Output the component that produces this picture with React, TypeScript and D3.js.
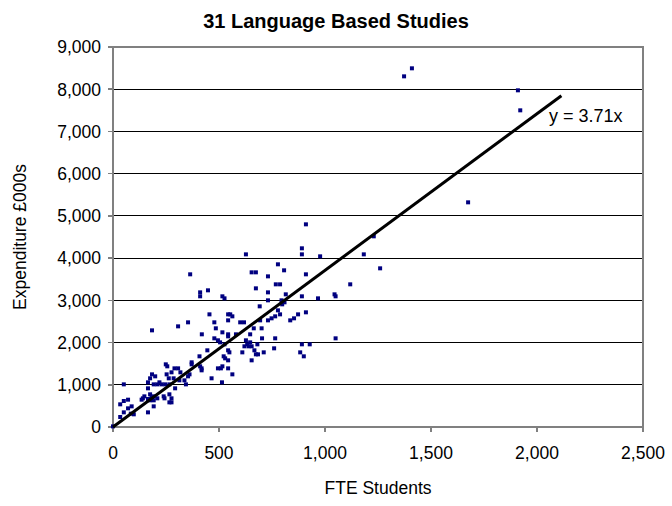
import React from "react";
import * as d3 from "d3";

const title = "31 Language Based Studies";
const xLabel = "FTE Students";
const yLabel = "Expenditure £000s";
const xTicks = [0, 500, 1000, 1500, 2000, 2500];
const yTicks = [0, 1000, 2000, 3000, 4000, 5000, 6000, 7000, 8000, 9000];
const slope = 3.71;
const trendEndX = 2115;
const trendLabel = "y = 3.71x";

const fte = [
  0, 34, 34, 51, 51, 51, 71, 71, 88, 98, 84, 141, 135, 148, 165, 165, 165, 175, 184, 199,
  192, 192, 175, 182, 192, 175, 165, 192, 209, 209, 219, 229, 239, 249, 256, 253, 263, 246, 266, 243,
  266, 276, 266, 276, 293, 290, 307, 276, 286, 313, 318, 337, 344, 354, 361, 371, 371, 411, 418, 418,
  408, 445, 465,
  184, 307, 354, 364, 411, 411, 448, 419, 455, 478, 485, 478, 495, 505, 516, 516, 526, 543, 553, 563,
  543, 543, 543, 526, 543, 549, 522, 529, 543, 516, 509, 495, 543, 563, 514, 580, 600, 618, 610, 627,
  627, 620, 633, 640, 647, 654, 647, 654, 667, 674, 684, 681, 664, 654, 674, 674, 692, 694, 701, 703,
  711, 731, 731, 731, 731, 748, 765, 760, 765, 768, 788, 778, 778, 788, 795, 798, 807, 815, 809, 836,
  854, 873, 891, 891, 910, 910, 891, 910, 891, 928, 883, 900, 967, 977, 1045, 1050, 1050, 1119, 1183, 1230,
  1260, 1675, 1373, 1410, 1910, 1921,
];
const expenditure = [
  15, 237, 537, 1010, 616, 347, 647, 442, 489, 300, 316, 679, 647, 726, 347, 916, 1058, 1153, 1247, 1200,
  1010, 489, 774, 710, 726, 632, 663, 632, 679, 1010, 1058, 1010, 726, 1484, 1437, 1247, 1153, 1010, 1010, 679,
  774, 679, 584, 584, 916, 1389, 1389, 1295, 1153, 1105, 1295, 1105, 1010, 1200, 1247, 1532, 1484, 1437, 1389, 1342,
  1674, 1816, 1153,
  2289, 2384, 2479, 3616, 3189, 3095, 3237, 2195, 2668, 2479, 2337, 2100, 2053, 2005, 2242, 3095, 3047, 2668, 2668, 2621,
  2526, 2195, 2147, 1958, 1816, 1768, 1674, 1626, 1579, 1437, 1389, 1389, 1389, 1247, 1058, 2195, 2479, 2479, 1768, 4089,
  2053, 1911, 1958, 1911, 2005, 1911, 2195, 1579, 1816, 1721, 1721, 1958, 2337, 3663, 3663, 3284, 2858, 2526, 2337, 2100,
  1768, 3568, 3189, 3000, 2526, 2574, 2621, 1863, 2100, 3379, 3379, 3853, 2763, 2668, 3000, 2905, 3711, 3142, 2953, 2526,
  2574, 2668, 4232, 4089, 4800, 3616, 3095, 2716, 1958, 1958, 1768, 1674, 3047, 4042, 3142, 3095, 2100, 3379, 4089, 4516,
  3758, 5321, 8305, 8495, 7974, 7500,
];

export default function App() {
  const W = 672, H = 506;
  const left = 113, right = 643, top = 47, bottom = 427;
  const x = d3.scaleLinear().domain([0, 2500]).range([left, right]);
  const y = d3.scaleLinear().domain([0, 9000]).range([bottom, top]);
  const font = "'Liberation Sans', Arial, sans-serif";
  const pts = fte.map((v, i) => [v, expenditure[i]]);
  const fmt = d3.format(",");
  return (
    <svg width={W} height={H} style={{ position: "absolute", left: 0, top: 0, background: "#fff" }} fontFamily={font}>
      <rect x={0} y={0} width={W} height={H} fill="#fff" />
      {yTicks.slice(1).map((t) => (
        <line key={"g" + t} x1={left} x2={right} y1={y(t)} y2={y(t)} stroke="#000" strokeWidth={1} shapeRendering="crispEdges" />
      ))}
      <rect x={left} y={top} width={right - left} height={bottom - top} fill="none" stroke="#808080" strokeWidth={1.5} shapeRendering="crispEdges" />
      {yTicks.map((t) => (
        <g key={"y" + t}>
          <line x1={left - 5} x2={left} y1={y(t)} y2={y(t)} stroke="#808080" strokeWidth={1.5} shapeRendering="crispEdges" />
          <text x={left - 12} y={y(t)} dy="0.36em" textAnchor="end" fontSize={17.5}>{fmt(t)}</text>
        </g>
      ))}
      {xTicks.map((t) => (
        <g key={"x" + t}>
          <line x1={x(t)} x2={x(t)} y1={bottom} y2={bottom + 5} stroke="#808080" strokeWidth={1.5} shapeRendering="crispEdges" />
          <text x={x(t)} y={bottom + 32} textAnchor="middle" fontSize={17.5}>{fmt(t)}</text>
        </g>
      ))}
      <line x1={left} x2={left} y1={top} y2={bottom} stroke="#808080" strokeWidth={1.5} shapeRendering="crispEdges" />
      <line x1={left} x2={right} y1={bottom} y2={bottom} stroke="#808080" strokeWidth={1.5} shapeRendering="crispEdges" />
      {pts.map(([a, b], i) => (
        <rect key={i} x={x(a) - 2} y={y(b) - 2} width={4} height={4} fill="#000080" />
      ))}
      <line x1={x(0)} y1={y(0)} x2={x(trendEndX)} y2={y(slope * trendEndX)} stroke="#000" strokeWidth={3} />
      <text x={549} y={122} fontSize={18}>{trendLabel}</text>
      <text x={336} y={28} textAnchor="middle" fontSize={20} fontWeight="bold">{title}</text>
      <text x={x(1250)} y={494} textAnchor="middle" fontSize={17.5}>{xLabel}</text>
      <text transform={`translate(26,${(top + bottom) / 2}) rotate(-90)`} textAnchor="middle" fontSize={17.5}>{yLabel}</text>
    </svg>
  );
}
